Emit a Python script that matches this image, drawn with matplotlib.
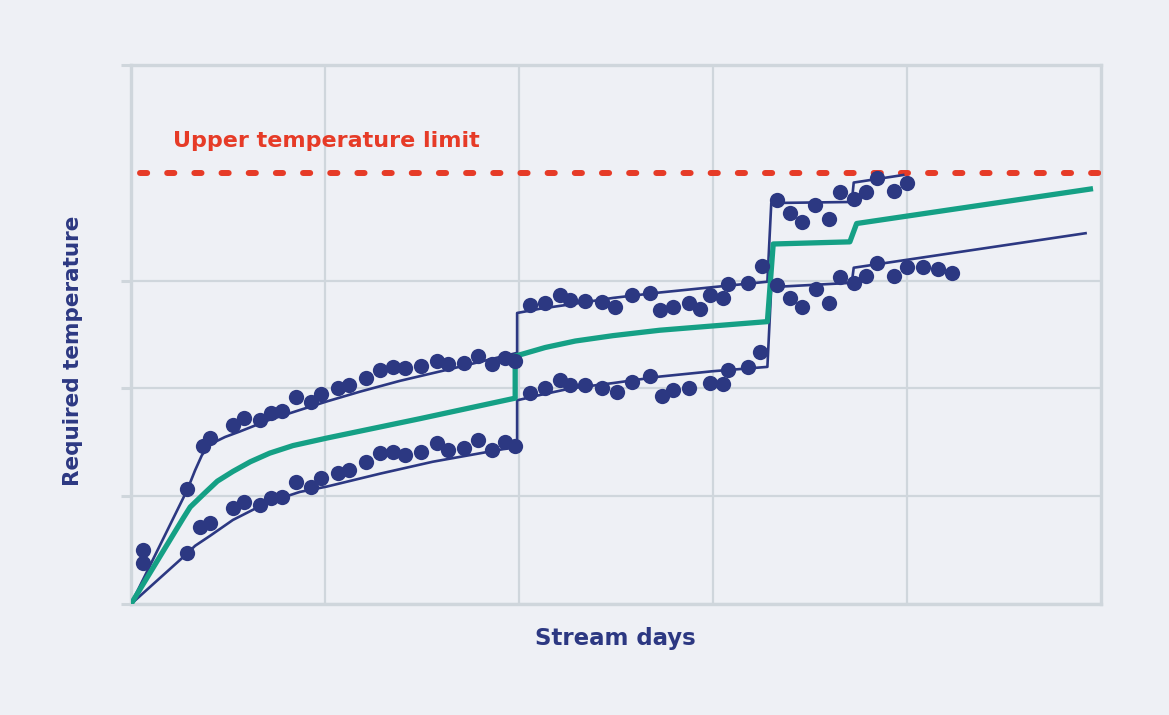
import matplotlib
matplotlib.use("Agg")
import matplotlib.pyplot as plt

# colours
BG = "#eef0f5"
GRID = "#cfd6dc"
NAVY = "#2c3882"
GREEN = "#15a085"
RED = "#e63b27"

# upper temperature limit
limit = 4.0

# measured points, upper band (stream days, temperature)
up_x = [1.2, 1.2, 5.8, 7.4, 8.1, 10.5, 11.6, 13.3, 14.4, 15.6, 17.0, 18.5, 19.6,
        21.3, 22.5, 24.2, 25.7, 27.0, 28.2, 29.9, 31.5, 32.7, 34.3, 35.8, 37.2, 38.5, 39.6,
        41.1, 42.7, 44.2, 45.3, 46.8, 48.6, 49.9, 51.6, 53.5, 54.5, 55.9, 57.5, 58.7,
        59.7, 61.0, 61.5, 63.6, 65.0,
        66.6, 67.9, 69.2, 70.5, 72.0, 73.1, 74.5, 75.8, 76.9, 78.7, 80.0]
up_y = [0.50, 0.38, 1.07, 1.47, 1.54, 1.66, 1.73, 1.71, 1.77, 1.79, 1.92, 1.87, 1.95,
        2.00, 2.03, 2.10, 2.17, 2.20, 2.19, 2.21, 2.25, 2.23, 2.24, 2.30, 2.23, 2.28, 2.25,
        2.77, 2.79, 2.87, 2.82, 2.81, 2.80, 2.76, 2.87, 2.89, 2.73, 2.76, 2.79, 2.74,
        2.87, 2.84, 2.97, 2.98, 3.14,
        3.75, 3.63, 3.54, 3.70, 3.57, 3.82, 3.76, 3.82, 3.95, 3.83, 3.91]

# measured points, lower band
lo_x = [5.8, 7.1, 8.1, 10.5, 11.6, 13.3, 14.4, 15.6, 17.0, 18.5, 19.6,
        21.3, 22.5, 24.2, 25.7, 27.0, 28.2, 29.9, 31.5, 32.7, 34.3, 35.8, 37.2, 38.5, 39.6,
        41.1, 42.7, 44.2, 45.3, 46.8, 48.6, 50.1, 51.6, 53.5, 54.7, 55.9, 57.5,
        59.7, 61.0, 61.5, 63.6, 64.8,
        66.6, 67.9, 69.2, 70.6, 72.0, 73.1, 74.5, 75.8, 76.9, 78.7, 80.0, 81.6, 83.2, 84.6]
lo_y = [0.47, 0.71, 0.75, 0.89, 0.95, 0.92, 0.98, 0.99, 1.13, 1.09, 1.17,
        1.22, 1.24, 1.32, 1.40, 1.41, 1.38, 1.41, 1.49, 1.43, 1.45, 1.52, 1.43, 1.50, 1.47,
        1.96, 2.00, 2.08, 2.03, 2.03, 2.00, 1.97, 2.06, 2.12, 1.93, 1.99, 2.00,
        2.05, 2.04, 2.17, 2.20, 2.34,
        2.96, 2.84, 2.76, 2.92, 2.79, 3.03, 2.98, 3.04, 3.16, 3.04, 3.13, 3.13, 3.11, 3.07]

# upper envelope line
env_up_x = [0, 5.8, 6.6, 7.3, 8.1, 9.7, 11.2, 14.3, 17.4, 20.2, 23.6, 27.7, 32.9, 39.8,
            39.8, 42.2, 45.3, 49.7, 54.5, 60.0, 65.6,
            66.0, 74.3, 74.5, 79.6]
env_up_y = [0, 1.06, 1.24, 1.38, 1.48, 1.55, 1.60, 1.71, 1.80, 1.88, 1.97, 2.07, 2.18, 2.33,
            2.70, 2.74, 2.78, 2.84, 2.89, 2.94, 2.99,
            3.72, 3.73, 3.91, 3.98]

# lower envelope line
env_lo_x = [0, 5.8, 6.6, 8.1, 10.5, 14.0, 17.4, 20.2, 25.7, 31.1, 39.8,
            39.8, 42.2, 45.3, 49.7, 54.5, 60.0, 65.6,
            66.0, 74.3, 74.5, 98.4]
env_lo_y = [0, 0.47, 0.54, 0.63, 0.78, 0.94, 1.04, 1.09, 1.21, 1.32, 1.46,
            1.89, 1.94, 2.00, 2.05, 2.11, 2.16, 2.20,
            2.94, 2.98, 3.12, 3.44]

# average line
avg_x = [0, 5.4, 6.1, 7.6, 8.9, 10.5, 12.3, 14.3, 16.7, 20.2, 29.8, 39.6,
         39.6, 40.4, 42.7, 45.8, 49.7, 54.5, 60.0, 65.6,
         66.2, 74.1, 74.8, 98.9]
avg_y = [0, 0.80, 0.90, 1.03, 1.14, 1.23, 1.32, 1.40, 1.47, 1.54, 1.72, 1.91,
         2.30, 2.32, 2.38, 2.44, 2.49, 2.54, 2.58, 2.62,
         3.34, 3.36, 3.53, 3.85]

plt.rcParams['font.family'] = ['DejaVu Sans']

fig = plt.figure(figsize=(11.69, 7.15), dpi=100, facecolor=BG)
ax = fig.add_axes([0.1121, 0.1552, 0.8298, 0.7538])
ax.set_facecolor(BG)

ax.set_xlim(0, 100)
ax.set_ylim(0, 5)
ax.set_xticks([20, 40, 60, 80])
ax.set_yticks([0, 1, 2, 3, 5])
ax.grid(True, color=GRID, linewidth=1.6)
ax.set_axisbelow(True)
ax.tick_params(axis='x', length=0, labelbottom=False)
ax.tick_params(axis='y', length=7, width=2.2, color=GRID, direction='out', labelleft=False)
for side in ax.spines.values():
    side.set_color(GRID)
    side.set_linewidth(2.4)

# limit line
ax.plot([0.9, 100], [limit, limit], color=RED, linewidth=4.3,
        linestyle=(0, (1.2, 3.35)), dash_capstyle='round', zorder=3)
ax.text(4.3, 4.3, "Upper temperature limit", color=RED, fontsize=16,
        fontweight='bold', ha='left', va='center')

ax.plot(env_up_x, env_up_y, color=NAVY, linewidth=1.9, zorder=4)
ax.plot(env_lo_x, env_lo_y, color=NAVY, linewidth=1.9, zorder=4)
ax.plot(avg_x, avg_y, color=GREEN, linewidth=3.8, zorder=5)
ax.plot(up_x, up_y, 'o', color=NAVY, markersize=11, markeredgewidth=0, zorder=6)
ax.plot(lo_x, lo_y, 'o', color=NAVY, markersize=11, markeredgewidth=0, zorder=6)

fig.text(615 / 1169, 1 - 638 / 715, "Stream days", color=NAVY, fontsize=16.5,
         fontweight='bold', ha='center', va='center')
fig.text(73 / 1169, 1 - 351 / 715, "Required temperature", color=NAVY, fontsize=15.5,
         fontweight='bold', ha='center', va='center', rotation=90)

fig.savefig("out.png", dpi=100, facecolor=BG)
